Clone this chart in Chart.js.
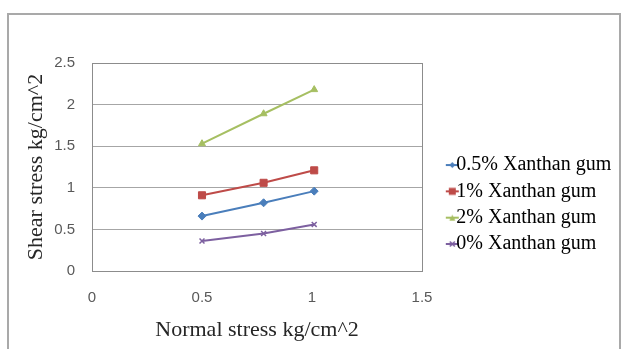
<!DOCTYPE html>
<html>
<head>
<meta charset="utf-8">
<script src="https://cdn.jsdelivr.net/npm/chart.js@4/dist/chart.umd.min.js"></script>
<style>
  html, body { margin: 0; padding: 0; background: #fff; overflow: hidden; width: 621px; height: 349px; }
  #frame { position: absolute; left: 7px; top: 13px; width: 610px; height: 400px; border: 2px solid #a9a9a9; }
  #wrap { position: absolute; left: 0; top: 0; width: 621px; height: 349px; }
</style>
</head>
<body>
<div id="frame"></div>
<div id="wrap"><canvas id="chart" width="621" height="349"></canvas></div>
<script>
// normal stress (x) and shear stress (y)
const normalStress = [0.5, 0.78, 1.01];
const seriesNames = ["0.5% Xanthan gum", "1% Xanthan gum", "2% Xanthan gum", "0% Xanthan gum"];
const xg05 = [0.66, 0.82, 0.96];
const xg1 = [0.91, 1.06, 1.21];
const xg2 = [1.53, 1.89, 2.18];
const xg0 = [0.36, 0.45, 0.56];
const xTicks = [0, 0.5, 1, 1.5];
const yTicks = [0, 0.5, 1, 1.5, 2, 2.5];

const colors = ["#4a7ebb", "#be4b48", "#a6bf62", "#7d60a0"];
const markers = ["rectRot", "rect", "triangle", "crossRot"];
const radii = [4, 5, 4, 3.5];
const values = [xg05, xg1, xg2, xg0];

function points(ys) {
  return normalStress.map((x, i) => ({x: x, y: ys[i]}));
}

// line+marker icon for the legend, like Excel's; symbol sits in the right half
function makeIcon(color, style) {
  var c = document.createElement("canvas");
  c.width = 28; c.height = 10;
  var g = c.getContext("2d");
  g.translate(14, 0);
  g.strokeStyle = color; g.fillStyle = color; g.lineWidth = 2;
  g.beginPath(); g.moveTo(0, 5); g.lineTo(13, 5); g.stroke();
  g.beginPath();
  if (style === "rect") { g.fillRect(3, 1.5, 7, 7); }
  else if (style === "rectRot") { g.moveTo(6.5, 2); g.lineTo(9.5, 5); g.lineTo(6.5, 8); g.lineTo(3.5, 5); g.closePath(); g.fill(); }
  else if (style === "triangle") { g.moveTo(6.5, 2); g.lineTo(9.5, 8); g.lineTo(3.5, 8); g.closePath(); g.fill(); }
  else { g.lineWidth = 1.5; g.moveTo(4, 2.5); g.lineTo(9, 7.5); g.moveTo(9, 2.5); g.lineTo(4, 7.5); g.stroke(); }
  return c;
}
const icons = colors.map((c, i) => makeIcon(c, markers[i]));

const plotBox = {
  id: "plotBox",
  beforeDatasetsDraw(chart) {
    const a = chart.chartArea, ctx = chart.ctx;
    ctx.save();
    ctx.strokeStyle = "#8c8c8c";
    ctx.lineWidth = 1;
    ctx.strokeRect(a.left + 0.5, a.top + 0.5, a.right - a.left, a.bottom - a.top);
    ctx.restore();
  }
};

const tickFmt = v => String(v);

new Chart(document.getElementById("chart"), {
  type: "scatter",
  data: {
    datasets: seriesNames.map((name, i) => ({
      label: name,
      data: points(values[i]),
      showLine: true,
      borderColor: colors[i],
      backgroundColor: colors[i],
      borderWidth: 2,
      pointStyle: markers[i],
      pointRadius: radii[i],
      pointBorderWidth: markers[i] === "crossRot" ? 1.5 : 1
    }))
  },
  options: {
    responsive: false,
    animation: false,
    layout: { padding: { top: 60, left: 0, right: 0, bottom: 0 } },
    scales: {
      x: {
        type: "linear", min: 0, max: 1.5,
        afterFit: s => { s.height = 78; },
        afterBuildTicks: s => { s.ticks = xTicks.map(v => ({value: v})); },
        grid: { display: false, drawTicks: false },
        border: { display: false },
        ticks: { padding: 18, color: "#595959", font: { family: "Liberation Sans", size: 15 }, callback: tickFmt },
        title: { display: true, text: "Normal stress kg/cm^2", color: "#262626",
                 font: { family: "Liberation Serif", size: 22 }, padding: { top: 4, bottom: 6 } }
      },
      y: {
        type: "linear", min: 0, max: 2.5,
        afterFit: s => { s.width = 92; },
        afterBuildTicks: s => { s.ticks = yTicks.map(v => ({value: v})); },
        grid: { color: "#a6a6a6", lineWidth: 1, drawTicks: false },
        border: { display: false },
        ticks: { padding: 17, color: "#595959", font: { family: "Liberation Sans", size: 15 }, callback: tickFmt },
        title: { display: true, text: "Shear stress kg/cm^2", color: "#262626",
                 font: { family: "Liberation Serif", size: 22 }, padding: { top: 23, bottom: 0 } }
      },
      gap: {
        type: "linear", position: "right", display: true,
        afterFit: s => { s.width = 17; },
        grid: { display: false, drawTicks: false },
        border: { display: false },
        ticks: { display: false }
      }
    },
    plugins: {
      title: { display: true, text: "", padding: 0, font: { size: 3, lineHeight: "3px" } },
      tooltip: { enabled: false },
      legend: {
        position: "right",
        maxWidth: 182,
        labels: {
          usePointStyle: true,
          pointStyleWidth: 1,
          padding: 6.3,
          color: "#262626",
          font: { family: "Liberation Serif", size: 20, lineHeight: "22px" },
          generateLabels: chart => chart.data.datasets.map((ds, i) => ({
            text: ds.label,
            pointStyle: icons[i],
            fillStyle: ds.borderColor,
            strokeStyle: ds.borderColor,
            lineWidth: 0,
            hidden: false,
            datasetIndex: i
          }))
        }
      }
    }
  },
  plugins: [plotBox]
});
</script>
</body>
</html>
